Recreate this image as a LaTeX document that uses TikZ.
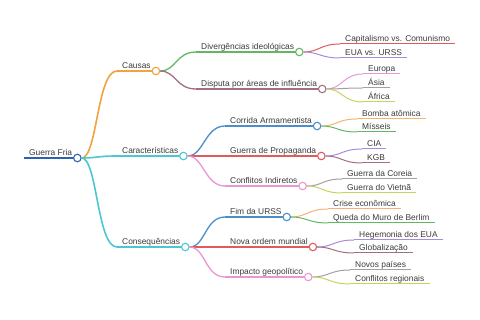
\documentclass[tikz,border=0pt]{standalone}
\usepackage{fontspec}
\setmainfont{Liberation Sans}
\usepackage{tikz}
\definecolor{cTxt}{HTML}{3A3A3A}
\definecolor{cRoot}{HTML}{2F62AE}
\definecolor{cOr}{HTML}{F2A23E}
\definecolor{cCy}{HTML}{4BC7D3}
\definecolor{cGr}{HTML}{62B862}
\definecolor{cMv}{HTML}{A0717D}
\definecolor{cBl}{HTML}{4A8ECB}
\definecolor{cRd}{HTML}{E05A5E}
\definecolor{cPk}{HTML}{E897D4}
\definecolor{cPu}{HTML}{A88BE0}
\definecolor{cGy}{HTML}{A89CAA}
\definecolor{cYg}{HTML}{C9D25E}
\definecolor{cLo}{HTML}{F6B274}
\tikzset{
  lbl/.style={anchor=south west, inner xsep=5pt, inner ysep=2.5pt, text depth=0pt, text=cTxt, font=\fontsize{8.4}{10}\selectfont},
  Lzero/.style={line width=2pt},
  Lone/.style={line width=1.6pt},
  Ltwo/.style={line width=1.3pt},
  Lthree/.style={line width=1pt},
  dot/.style={circle, fill=white, line width=1.1pt, minimum size=7.5pt, inner sep=0pt},
}
\newcommand{\mmnode}[6]{\node[lbl] (#1) at (#4,#5) {#6}; \draw[#2,#3] (#1.south west) -- (#1.south east);}
\newcommand{\mmdot}[2]{\node[dot, draw=#2] (#1-c) at (#1.south east) {};}
\newcommand{\mmlink}[4]{\draw[#3,#4] (#1-c) .. controls +(20,0) and +(-20,0) .. (#2.south west);}

\begin{document}
\begin{tikzpicture}[x=1pt,y=-1pt]
\useasboundingbox (0,0) rectangle (480,320);
\mmnode{root}{cRoot}{Lzero}{24}{158}{Guerra Fria}
\mmdot{root}{cRoot}
\mmnode{causas}{cOr}{Lone}{117}{71}{Causas}
\mmdot{causas}{cOr}
\mmnode{caract}{cCy}{Lone}{117}{156}{Características}
\mmdot{caract}{cCy}
\mmnode{conseq}{cCy}{Lone}{117}{247}{Consequências}
\mmdot{conseq}{cCy}
\mmnode{diverg}{cGr}{Ltwo}{196}{52}{Divergências ideológicas}
\mmdot{diverg}{cGr}
\mmnode{disputa}{cMv}{Ltwo}{196}{89}{Disputa por áreas de influência}
\mmdot{disputa}{cMv}
\mmnode{corrida}{cBl}{Ltwo}{225}{126}{Corrida Armamentista}
\mmdot{corrida}{cBl}
\mmnode{propag}{cRd}{Ltwo}{225}{156}{Guerra de Propaganda}
\mmdot{propag}{cRd}
\mmnode{conflitos}{cPk}{Ltwo}{225}{186}{Conflitos Indiretos}
\mmdot{conflitos}{cPk}
\mmnode{fim}{cBl}{Ltwo}{225}{217}{Fim da URSS}
\mmdot{fim}{cBl}
\mmnode{nova}{cRd}{Ltwo}{225}{247}{Nova ordem mundial}
\mmdot{nova}{cRd}
\mmnode{impacto}{cPk}{Ltwo}{225}{277}{Impacto geopolítico}
\mmdot{impacto}{cPk}
\mmnode{capital}{cRd}{Lthree}{340}{44}{Capitalismo vs. Comunismo}
\mmnode{euaurss}{cPu}{Lthree}{340}{58}{EUA vs. URSS}
\mmnode{europa}{cPk}{Lthree}{363}{74}{Europa}
\mmnode{asia}{cGy}{Lthree}{363}{88}{Ásia}
\mmnode{africa}{cYg}{Lthree}{363}{102}{África}
\mmnode{bomba}{cLo}{Lthree}{357}{119}{Bomba atômica}
\mmnode{misseis}{cGr}{Lthree}{357}{132}{Mísseis}
\mmnode{cia}{cPu}{Lthree}{362}{149}{CIA}
\mmnode{kgb}{cMv}{Lthree}{362}{163}{KGB}
\mmnode{coreia}{cGy}{Lthree}{342}{179}{Guerra da Coreia}
\mmnode{vietna}{cYg}{Lthree}{342}{193}{Guerra do Vietnã}
\mmnode{crise}{cLo}{Lthree}{328}{209}{Crise econômica}
\mmnode{muro}{cGr}{Lthree}{328}{223}{Queda do Muro de Berlim}
\mmnode{hegem}{cPu}{Lthree}{354}{240}{Hegemonia dos EUA}
\mmnode{global}{cMv}{Lthree}{354}{253}{Globalização}
\mmnode{novos}{cGy}{Lthree}{350}{270}{Novos países}
\mmnode{conflreg}{cYg}{Lthree}{350}{284}{Conflitos regionais}
\mmlink{root}{causas}{cOr}{Lone}
\mmlink{root}{caract}{cCy}{Lone}
\mmlink{root}{conseq}{cCy}{Lone}
\mmlink{causas}{diverg}{cGr}{Ltwo}
\mmlink{causas}{disputa}{cMv}{Ltwo}
\mmlink{caract}{corrida}{cBl}{Ltwo}
\mmlink{caract}{propag}{cRd}{Ltwo}
\mmlink{caract}{conflitos}{cPk}{Ltwo}
\mmlink{conseq}{fim}{cBl}{Ltwo}
\mmlink{conseq}{nova}{cRd}{Ltwo}
\mmlink{conseq}{impacto}{cPk}{Ltwo}
\mmlink{diverg}{capital}{cRd}{Lthree}
\mmlink{diverg}{euaurss}{cPu}{Lthree}
\mmlink{disputa}{europa}{cPk}{Lthree}
\mmlink{disputa}{asia}{cGy}{Lthree}
\mmlink{disputa}{africa}{cYg}{Lthree}
\mmlink{corrida}{bomba}{cLo}{Lthree}
\mmlink{corrida}{misseis}{cGr}{Lthree}
\mmlink{propag}{cia}{cPu}{Lthree}
\mmlink{propag}{kgb}{cMv}{Lthree}
\mmlink{conflitos}{coreia}{cGy}{Lthree}
\mmlink{conflitos}{vietna}{cYg}{Lthree}
\mmlink{fim}{crise}{cLo}{Lthree}
\mmlink{fim}{muro}{cGr}{Lthree}
\mmlink{nova}{hegem}{cPu}{Lthree}
\mmlink{nova}{global}{cMv}{Lthree}
\mmlink{impacto}{novos}{cGy}{Lthree}
\mmlink{impacto}{conflreg}{cYg}{Lthree}
\end{tikzpicture}
\end{document}
